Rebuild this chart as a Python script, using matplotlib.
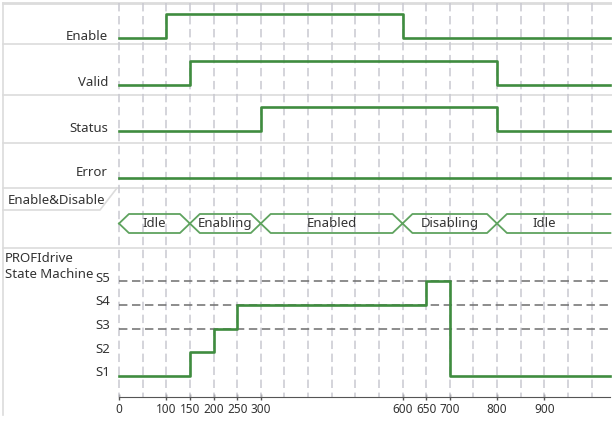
import numpy as np
import matplotlib
matplotlib.use("Agg")
import matplotlib.pyplot as plt

plt.rcParams["font.family"] = ["Noto Sans", "DejaVu Sans"]

# signal data (time in ms, level 0/1)
T_END = 1040
enable_times = [0, 100, 600]
enable_levels = [0, 1, 0]
valid_times = [0, 150, 800]
valid_levels = [0, 1, 0]
status_times = [0, 300, 800]
status_levels = [0, 1, 0]
error_times = [0]
error_levels = [0]

bus_names = ["Idle", "Enabling", "Enabled", "Disabling", "Idle"]
bus_edges = [0, 150, 300, 600, 800, 1000]

sm_times = [0, 150, 200, 250, 650, 700]
sm_states = [1, 2, 3, 4, 5, 1]
state_labels = ["S1", "S2", "S3", "S4", "S5"]
dashed_states = [3, 4, 5]

tick_times = [0, 100, 150, 200, 250, 300, 600, 650, 700, 800, 900]
grid_times = np.arange(0, 1001, 50)

# layout in pixels (y from top)
W, H = 612, 422
X0_PX, PX_PER_UNIT = 119, 0.4725
rows = {
    "Enable": (38, 14),
    "Valid": (85, 61),
    "Status": (131, 107),
    "Error": (178, 154),
}
separators = [44, 95, 143, 188, 248]
BUS_TOP, BUS_BOT, BUS_SLOPE = 214, 233, 21
S1_Y, S_STEP = 376, 23.75
AXIS_Y = 397
GREEN = "#3f8c3f"
BUS_GREEN = "#5fa35f"
SEP = "#dcdcdc"
GRID = "#c9c9d1"
TXT = "#333333"
FS = 9.5

fig = plt.figure(figsize=(W / 100, H / 100), dpi=100)
bg = fig.add_axes([0, 0, 1, 1])
bg.set_xlim(0, W)
bg.set_ylim(H, 0)
bg.axis("off")

ax = fig.add_axes([0, 0, 1, 1])
ax.patch.set_alpha(0)
ax.set_xlim(-X0_PX / PX_PER_UNIT, (W - X0_PX) / PX_PER_UNIT)
ax.set_ylim(H, 0)

# frame / separators
bg.plot([3, W], [3, 3], color=SEP, lw=2)
bg.plot([3, 3], [3, 415], color=SEP, lw=1.2)
for y in separators:
    bg.plot([3, W], [y, y], color=SEP, lw=1.2)
bg.plot([3, 100, 117], [210, 210, 188], color=SEP, lw=1.2)

# vertical grid
ax.vlines(grid_times, 3, AXIS_Y, colors=GRID, lw=1.1, linestyles=(0, (5.5, 3)))


# signal rows
def draw_signal(name, times, levels, label_y=None):
    low, high = rows[name]
    t = list(times) + [T_END]
    lv = list(levels) + [levels[-1]]
    y = [low - l * (low - high) for l in lv]
    ax.step(t, y, where="post", color=GREEN, lw=1.9)
    if label_y is None:
        label_y = low - 2
    bg.text(108, label_y, name, ha="right", va="center", fontsize=FS, color=TXT)


draw_signal("Enable", enable_times, enable_levels)
draw_signal("Valid", valid_times, valid_levels)
draw_signal("Status", status_times, status_levels)
draw_signal("Error", error_times, error_levels, label_y=172)

# bus
mid = (BUS_TOP + BUS_BOT) / 2
for i, name in enumerate(bus_names):
    a, b = bus_edges[i], bus_edges[i + 1]
    last = i == len(bus_names) - 1
    xs = [a, a + BUS_SLOPE, (T_END if last else b - BUS_SLOPE)]
    ys_top = [mid, BUS_TOP, BUS_TOP]
    ys_bot = [mid, BUS_BOT, BUS_BOT]
    if not last:
        xs.append(b)
        ys_top.append(mid)
        ys_bot.append(mid)
    ax.plot(xs, ys_top, color=BUS_GREEN, lw=1.3)
    ax.plot(xs, ys_bot, color=BUS_GREEN, lw=1.3)
    ax.text((a + b) / 2, mid, name, ha="center", va="center", fontsize=FS, color=TXT)
bg.text(8, 200, "Enable&Disable", ha="left", va="center", fontsize=FS, color=TXT)

# state machine
bg.text(5, 258, "PROFIdrive", ha="left", va="center", fontsize=FS, color=TXT)
bg.text(5, 274, "State Machine", ha="left", va="center", fontsize=FS, color=TXT)
for i, lab in enumerate(state_labels):
    y = S1_Y - i * S_STEP
    bg.text(110, y - 3, lab, ha="right", va="center", fontsize=FS, color=TXT)
for s in dashed_states:
    y = S1_Y - (s - 1) * S_STEP
    ax.plot([0, T_END], [y, y], color="#6e6e6e", lw=1.1, ls=(0, (5.5, 3)))
sm_y = [S1_Y - (s - 1) * S_STEP for s in sm_states]
ax.step(list(sm_times) + [T_END], sm_y + [sm_y[-1]], where="post", color=GREEN, lw=1.9)

# time axis
for side in ["top", "left", "right"]:
    ax.spines[side].set_visible(False)
ax.spines["bottom"].set_position(("data", AXIS_Y))
ax.spines["bottom"].set_bounds(0, T_END)
ax.spines["bottom"].set_color("#555555")
ax.set_yticks([])
ax.set_xticks(tick_times)
ax.set_xticklabels([str(t) for t in tick_times])
ax.tick_params(axis="x", direction="inout", length=5, width=1, color="#555555",
               labelsize=8.5, labelcolor=TXT, pad=2)

fig.savefig("out.png", dpi=100)
